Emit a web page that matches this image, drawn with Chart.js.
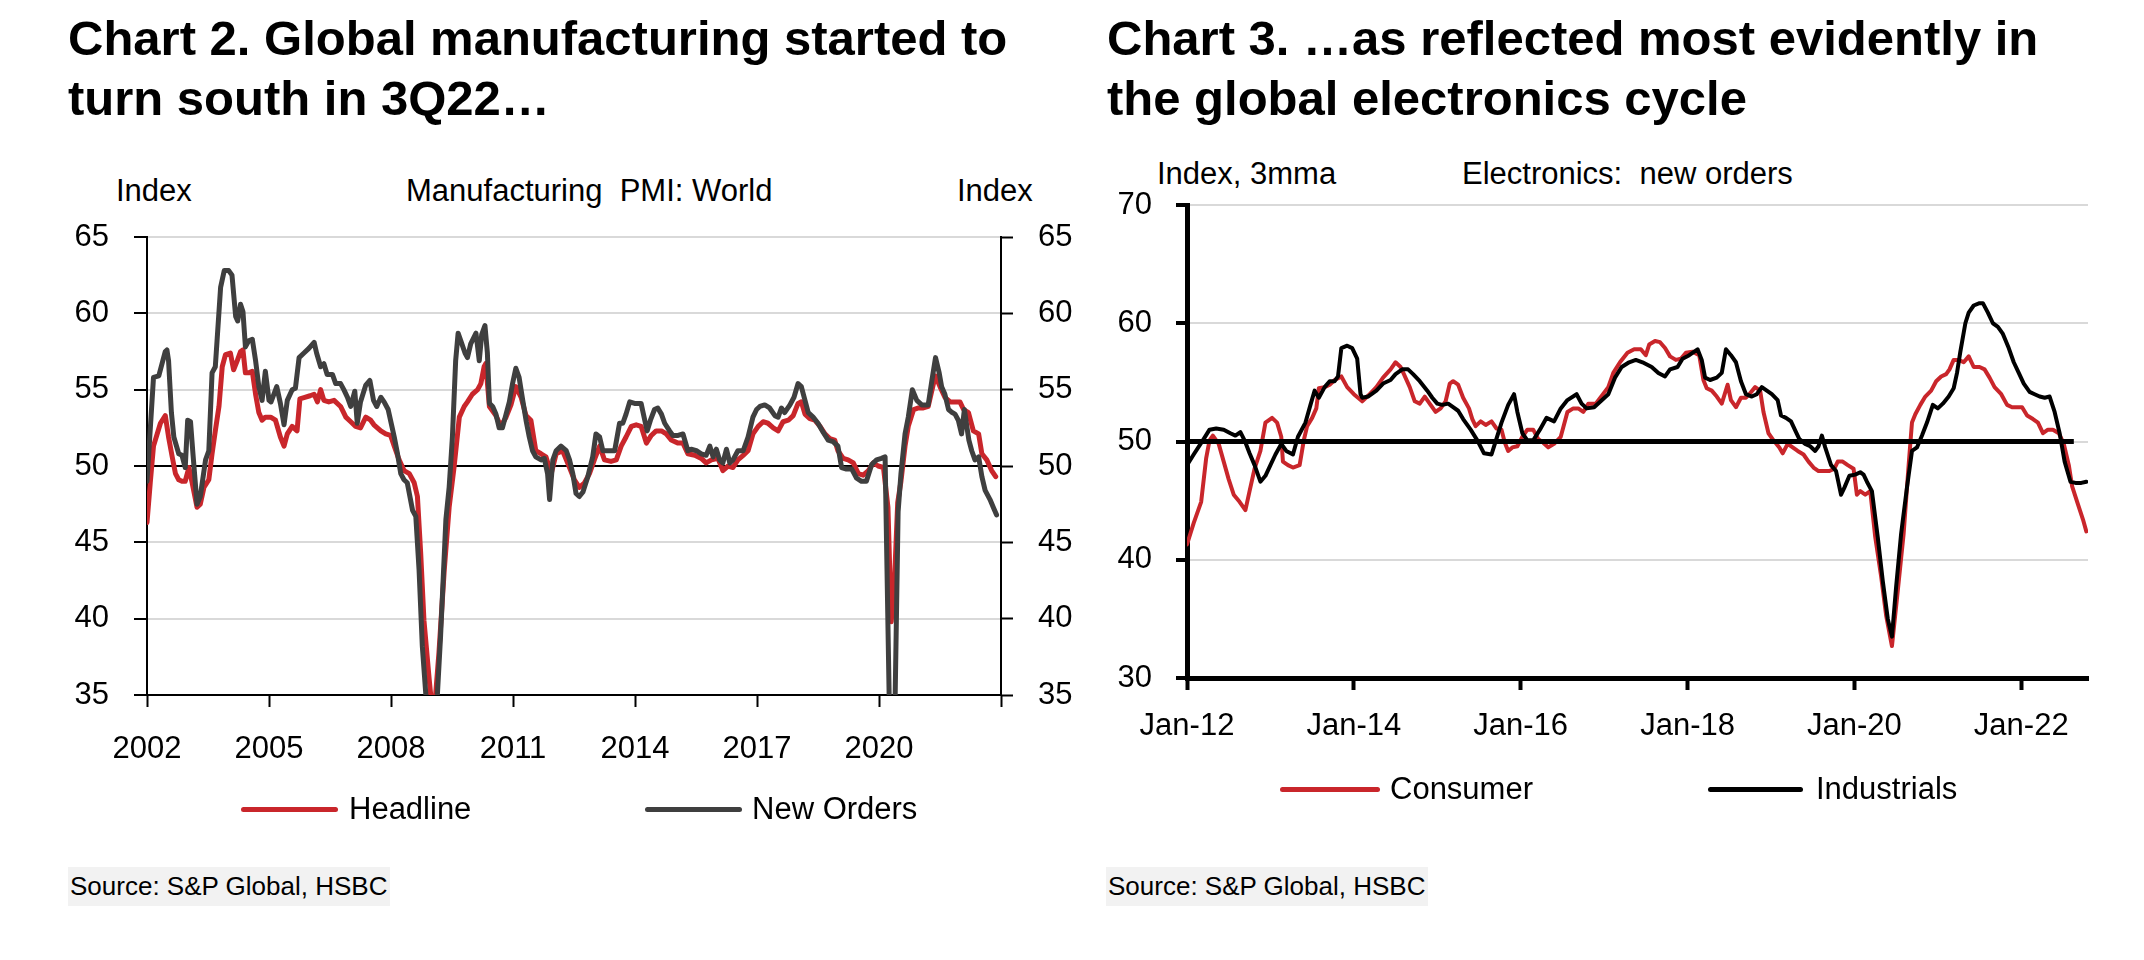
<!DOCTYPE html>
<html>
<head>
<meta charset="utf-8">
<script src="https://cdn.jsdelivr.net/npm/chart.js@4.4.1/dist/chart.umd.min.js"></script>
<style>
  body { margin: 0; background: #fff; width: 2144px; height: 960px; position: relative; overflow: hidden;
         font-family: 'Liberation Sans', Arial, sans-serif; color: #000; }
  .abs { position: absolute; white-space: pre; }
  .title { font-weight: 700; font-size: 49px; line-height: 60px; }
  .lbl { font-size: 31px; line-height: 32px; }
  .key { position: absolute; height: 5px; border-radius: 3px; }
  .src { font-size: 26px; line-height: 39px; background: #f2f2f2; padding: 0 3px 0 2px; }
  canvas { position: absolute; top: 0; }
</style>
</head>
<body>
  <div class="abs title" style="left:68px;top:8px">Chart 2. Global manufacturing started to
turn south in 3Q22…</div>
  <div class="abs title" style="left:1107px;top:8px">Chart 3. …as reflected most evidently in
the global electronics cycle</div>

  <div class="abs lbl" style="left:116px;top:175px">Index</div>
  <div class="abs lbl" style="left:406px;top:175px">Manufacturing  PMI: World</div>
  <div class="abs lbl" style="left:957px;top:175px">Index</div>
  <div class="abs lbl" style="left:1157px;top:158px">Index, 3mma</div>
  <div class="abs lbl" style="left:1462px;top:158px">Electronics:  new orders</div>

  <canvas id="pmi" width="1072" height="960" style="left:0"></canvas>
  <canvas id="elec" width="1072" height="960" style="left:1072px"></canvas>

  <div class="key" style="left:241px;top:807px;width:97px;background:#c9262b"></div>
  <div class="abs lbl" style="left:349px;top:793px">Headline</div>
  <div class="key" style="left:645px;top:807px;width:97px;background:#3f3f3f"></div>
  <div class="abs lbl" style="left:752px;top:793px">New Orders</div>

  <div class="key" style="left:1280px;top:787px;width:100px;background:#c9262b"></div>
  <div class="abs lbl" style="left:1390px;top:773px">Consumer</div>
  <div class="key" style="left:1708px;top:787px;width:95px;background:#000"></div>
  <div class="abs lbl" style="left:1816px;top:773px">Industrials</div>

  <div class="abs src" style="left:68px;top:867px">Source: S&amp;P Global, HSBC</div>
  <div class="abs src" style="left:1106px;top:867px">Source: S&amp;P Global, HSBC</div>

<script>
const FONT_FAMILY = "'Liberation Sans', Arial, sans-serif";

// Chart 2: manufacturing PMI, [year, index]
const pmiTickYears  = [2002, 2005, 2008, 2011, 2014, 2017, 2020, 2023];
const pmiTickLabels = ['2002', '2005', '2008', '2011', '2014', '2017', '2020', ''];

const headline = [
  [2002.00,46.3],[2002.08,48.9],[2002.16,51.3],[2002.25,52.1],[2002.33,52.8],[2002.45,53.3],[2002.53,51.9],[2002.62,50.6],
  [2002.70,49.5],[2002.78,49.1],[2002.86,49.0],[2002.94,49.0],[2003.03,49.9],[2003.11,48.9],[2003.23,47.3],[2003.31,47.5],
  [2003.40,48.6],[2003.52,49.1],[2003.60,50.8],[2003.68,52.3],[2003.77,53.9],[2003.85,56.5],[2003.93,57.3],[2004.05,57.4],
  [2004.13,56.3],[2004.22,56.9],[2004.30,57.5],[2004.36,57.6],[2004.42,56.1],[2004.50,56.1],[2004.59,56.2],[2004.67,54.7],
  [2004.75,53.5],[2004.83,53.0],[2004.91,53.2],[2005.04,53.2],[2005.16,53.0],[2005.28,51.9],[2005.37,51.3],[2005.45,52.1],
  [2005.57,52.6],[2005.69,52.3],[2005.76,54.4],[2005.88,54.5],[2006.01,54.6],[2006.11,54.7],[2006.19,54.2],[2006.27,55.0],
  [2006.35,54.3],[2006.47,54.2],[2006.60,54.3],[2006.76,53.9],[2006.89,53.2],[2007.01,52.9],[2007.13,52.6],[2007.25,52.5],
  [2007.38,53.2],[2007.50,53.0],[2007.58,52.7],[2007.75,52.3],[2007.87,52.1],[2007.99,52.0],[2008.08,51.3],[2008.20,50.4],
  [2008.32,49.7],[2008.45,49.5],[2008.57,48.9],[2008.65,48.0],[2008.73,44.3],[2008.81,39.9],[2008.94,36.0],[2009.02,33.8],
  [2009.10,35.1],[2009.18,37.8],[2009.31,43.2],[2009.43,47.3],[2009.55,49.9],[2009.68,53.2],[2009.80,53.9],[2009.88,54.2],
  [2010.00,54.7],[2010.13,55.0],[2010.21,55.4],[2010.29,56.5],[2010.33,56.7],[2010.42,53.9],[2010.58,53.3],[2010.70,52.6],
  [2010.83,53.2],[2010.95,54.0],[2011.07,55.2],[2011.20,54.5],[2011.32,53.3],[2011.44,53.0],[2011.56,51.0],[2011.69,50.8],
  [2011.81,50.6],[2011.94,49.5],[2012.06,50.8],[2012.22,51.0],[2012.39,49.9],[2012.51,49.1],[2012.63,48.6],[2012.76,48.9],
  [2012.88,49.5],[2013.00,50.4],[2013.13,51.3],[2013.25,50.4],[2013.41,50.3],[2013.54,50.4],[2013.66,51.3],[2013.78,51.9],
  [2013.91,52.6],[2014.03,52.7],[2014.15,52.6],[2014.28,51.5],[2014.40,52.0],[2014.52,52.3],[2014.65,52.3],[2014.77,52.1],
  [2014.89,51.7],[2015.06,51.5],[2015.18,51.5],[2015.30,50.8],[2015.47,50.7],[2015.63,50.5],[2015.75,50.2],[2015.88,50.4],
  [2016.04,50.5],[2016.16,49.7],[2016.29,50.0],[2016.41,49.9],[2016.53,50.4],[2016.66,50.7],[2016.78,51.0],[2016.90,52.1],
  [2017.03,52.6],[2017.15,52.9],[2017.27,52.8],[2017.40,52.5],[2017.52,52.3],[2017.64,52.9],[2017.77,53.0],[2017.89,53.3],
  [2018.01,54.1],[2018.09,54.2],[2018.18,53.4],[2018.30,53.1],[2018.42,53.0],[2018.55,52.6],[2018.67,52.1],[2018.79,51.8],
  [2018.91,51.7],[2018.99,51.0],[2019.12,50.5],[2019.24,50.4],[2019.37,50.2],[2019.49,49.5],[2019.61,49.4],[2019.74,49.7],
  [2019.86,50.2],[2019.98,50.0],[2020.11,49.9],[2020.22,47.3],[2020.30,39.8],[2020.38,42.4],[2020.46,47.6],[2020.54,49.0],
  [2020.64,51.3],[2020.72,52.6],[2020.85,53.7],[2020.97,53.8],[2021.09,53.8],[2021.21,53.9],[2021.34,55.4],[2021.39,55.9],
  [2021.50,55.2],[2021.62,54.5],[2021.75,54.2],[2021.87,54.2],[2021.99,54.2],[2022.08,53.7],[2022.20,53.5],[2022.32,52.3],
  [2022.45,52.1],[2022.53,50.8],[2022.65,50.4],[2022.77,49.7],[2022.87,49.3],
];

const newOrders = [
  [2002.00,49.0],[2002.16,55.8],[2002.29,55.9],[2002.37,56.7],[2002.45,57.5],[2002.49,57.6],[2002.53,56.9],[2002.60,53.5],
  [2002.66,51.9],[2002.78,50.8],[2002.86,50.7],[2002.94,49.9],[2003.00,53.0],[2003.07,52.9],[2003.13,50.8],[2003.23,47.5],
  [2003.31,48.0],[2003.44,50.4],[2003.52,51.0],[2003.60,56.1],[2003.68,56.5],[2003.81,61.7],[2003.90,62.8],[2004.01,62.8],
  [2004.09,62.5],[2004.18,59.8],[2004.23,59.5],[2004.30,60.6],[2004.36,60.1],[2004.42,57.8],[2004.50,58.2],[2004.59,58.3],
  [2004.67,56.9],[2004.75,55.2],[2004.83,54.3],[2004.91,56.2],[2005.00,54.3],[2005.05,54.2],[2005.19,55.2],[2005.28,54.1],
  [2005.37,52.7],[2005.45,54.3],[2005.57,55.0],[2005.65,55.1],[2005.74,57.1],[2005.86,57.4],[2005.98,57.7],[2006.11,58.1],
  [2006.17,57.4],[2006.27,56.5],[2006.35,56.7],[2006.43,56.0],[2006.56,56.0],[2006.64,55.4],[2006.76,55.4],[2006.84,55.0],
  [2006.93,54.5],[2007.01,53.9],[2007.11,54.9],[2007.17,52.8],[2007.25,54.2],[2007.38,55.3],[2007.48,55.6],[2007.57,54.3],
  [2007.65,53.9],[2007.75,54.5],[2007.83,54.2],[2007.93,53.7],[2008.03,52.5],[2008.08,51.9],[2008.16,50.8],[2008.24,49.5],
  [2008.32,49.1],[2008.40,48.9],[2008.53,47.1],[2008.61,46.7],[2008.69,43.2],[2008.77,38.2],[2008.86,34.9],[2008.95,31.5],
  [2009.05,32.5],[2009.14,35.0],[2009.22,38.9],[2009.35,46.5],[2009.43,48.6],[2009.51,51.9],[2009.59,56.9],[2009.65,58.7],
  [2009.73,58.1],[2009.82,57.4],[2009.88,57.1],[2009.96,58.0],[2010.09,58.7],[2010.17,56.9],[2010.23,58.6],[2010.31,59.2],
  [2010.37,57.4],[2010.42,54.1],[2010.50,53.9],[2010.58,53.4],[2010.66,52.5],[2010.74,52.5],[2010.83,53.4],[2010.91,54.2],
  [2010.99,55.4],[2011.07,56.4],[2011.15,55.8],[2011.24,54.3],[2011.32,53.0],[2011.40,51.9],[2011.48,51.0],[2011.56,50.6],
  [2011.69,50.4],[2011.77,50.5],[2011.85,49.5],[2011.90,47.8],[2011.98,50.4],[2012.06,51.0],[2012.18,51.3],[2012.31,51.0],
  [2012.39,50.4],[2012.47,49.5],[2012.55,48.2],[2012.63,48.0],[2012.72,48.3],[2012.84,49.3],[2012.96,50.6],[2013.04,52.1],
  [2013.13,51.9],[2013.21,51.0],[2013.33,51.0],[2013.50,51.0],[2013.62,52.8],[2013.70,52.8],[2013.78,53.4],[2013.87,54.2],
  [2013.99,54.1],[2014.07,54.1],[2014.15,54.1],[2014.24,53.0],[2014.30,52.3],[2014.38,53.0],[2014.48,53.7],[2014.56,53.8],
  [2014.65,53.4],[2014.73,52.8],[2014.85,52.3],[2014.93,52.0],[2015.06,52.0],[2015.18,52.1],[2015.30,51.0],[2015.38,51.1],
  [2015.51,51.0],[2015.63,50.8],[2015.75,50.7],[2015.84,51.3],[2015.92,50.6],[2016.00,51.1],[2016.08,50.4],[2016.16,50.2],
  [2016.25,51.1],[2016.33,50.2],[2016.41,50.4],[2016.53,51.0],[2016.66,51.0],[2016.78,51.9],[2016.90,53.2],[2016.99,53.7],
  [2017.07,53.9],[2017.19,54.0],[2017.31,53.8],[2017.44,53.3],[2017.52,53.2],[2017.60,53.8],[2017.68,53.5],[2017.81,54.0],
  [2017.91,54.5],[2018.01,55.4],[2018.09,55.2],[2018.18,54.3],[2018.26,53.5],[2018.38,53.2],[2018.50,52.8],[2018.63,52.2],
  [2018.75,51.7],[2018.87,51.6],[2018.99,51.3],[2019.08,49.9],[2019.20,49.8],[2019.33,49.8],[2019.45,49.2],[2019.57,49.0],
  [2019.69,49.0],[2019.82,50.1],[2019.94,50.4],[2020.06,50.5],[2020.15,50.6],[2020.30,27.0],[2020.38,32.0],[2020.47,47.0],
  [2020.54,49.5],[2020.64,52.1],[2020.72,53.2],[2020.82,55.0],[2020.93,54.3],[2021.05,54.0],[2021.21,54.0],[2021.30,55.6],
  [2021.39,57.1],[2021.48,56.1],[2021.54,55.2],[2021.62,54.7],[2021.71,53.7],[2021.80,53.5],[2021.87,53.4],[2021.95,53.0],
  [2022.03,52.1],[2022.10,53.7],[2022.16,52.6],[2022.21,51.7],[2022.28,51.0],[2022.36,50.4],[2022.45,50.6],[2022.53,49.3],
  [2022.61,48.4],[2022.73,47.8],[2022.81,47.3],[2022.89,46.8],
];

// Chart 3: electronics new orders, 3mma, [year, index]
const elecTickYears  = [2012, 2014, 2016, 2018, 2020, 2022];
const elecTickLabels = ['Jan-12', 'Jan-14', 'Jan-16', 'Jan-18', 'Jan-20', 'Jan-22'];
const elecFifty = [[2012, 50], [2022.63, 50]];

const consumer = [
  [2012.00,41.3],[2012.08,43.1],[2012.17,44.9],[2012.23,48.6],[2012.27,50.1],[2012.31,50.5],[2012.38,49.8],[2012.44,48.3],
  [2012.50,46.8],[2012.56,45.5],[2012.63,44.9],[2012.70,44.2],[2012.75,45.8],[2012.81,47.7],[2012.88,49.2],[2012.94,51.6],
  [2013.02,52.0],[2013.08,51.6],[2013.13,50.4],[2013.15,48.3],[2013.21,48.0],[2013.27,47.8],[2013.35,48.0],[2013.40,50.1],
  [2013.44,51.3],[2013.50,52.0],[2013.55,52.8],[2013.58,54.5],[2013.65,54.6],[2013.71,54.8],[2013.77,55.2],[2013.85,55.5],
  [2013.92,54.6],[2014.00,54.0],[2014.10,53.4],[2014.19,54.0],[2014.27,54.6],[2014.35,55.4],[2014.44,56.1],[2014.50,56.7],
  [2014.56,56.3],[2014.60,55.7],[2014.67,54.6],[2014.73,53.4],[2014.79,53.2],[2014.85,53.8],[2014.92,53.1],[2014.98,52.5],
  [2015.04,52.8],[2015.10,53.4],[2015.15,54.9],[2015.19,55.1],[2015.25,54.8],[2015.31,53.7],[2015.38,52.8],[2015.42,51.9],
  [2015.46,51.3],[2015.52,51.7],[2015.58,51.4],[2015.65,51.7],[2015.71,51.1],[2015.77,51.0],[2015.81,49.9],[2015.85,49.2],
  [2015.90,49.5],[2015.96,49.6],[2016.02,50.4],[2016.08,51.0],[2016.15,51.0],[2016.21,50.2],[2016.27,49.9],[2016.33,49.5],
  [2016.40,49.8],[2016.48,50.4],[2016.56,52.5],[2016.63,52.8],[2016.69,52.8],[2016.75,52.5],[2016.81,53.2],[2016.90,53.2],
  [2017.05,54.6],[2017.11,55.8],[2017.19,56.7],[2017.28,57.5],[2017.36,57.8],[2017.44,57.8],[2017.50,57.3],[2017.54,58.2],
  [2017.61,58.5],[2017.67,58.4],[2017.73,57.9],[2017.79,57.2],[2017.86,56.9],[2017.92,57.0],[2017.98,57.5],[2018.06,57.6],
  [2018.14,57.3],[2018.19,55.2],[2018.23,54.5],[2018.29,54.3],[2018.35,53.8],[2018.41,53.2],[2018.48,54.8],[2018.52,53.5],
  [2018.58,52.9],[2018.64,53.7],[2018.70,53.7],[2018.74,54.0],[2018.81,54.6],[2018.87,54.3],[2018.91,52.5],[2018.97,50.7],
  [2019.03,50.1],[2019.10,49.5],[2019.14,49.0],[2019.20,49.8],[2019.26,49.5],[2019.32,49.2],[2019.39,48.9],[2019.45,48.3],
  [2019.51,47.8],[2019.57,47.5],[2019.63,47.5],[2019.70,47.5],[2019.76,47.7],[2019.80,48.3],[2019.86,48.3],[2019.92,48.0],
  [2019.99,47.7],[2020.03,45.5],[2020.07,45.8],[2020.13,45.5],[2020.19,45.8],[2020.25,41.9],[2020.32,38.6],[2020.38,35.3],
  [2020.45,32.7],[2020.52,37.4],[2020.59,42.2],[2020.65,48.0],[2020.69,51.6],[2020.73,52.3],[2020.79,53.1],[2020.85,53.8],
  [2020.92,54.3],[2020.98,55.1],[2021.04,55.5],[2021.10,55.7],[2021.14,56.1],[2021.19,56.9],[2021.25,56.9],[2021.31,56.7],
  [2021.37,57.2],[2021.43,56.3],[2021.50,56.3],[2021.56,56.1],[2021.62,55.4],[2021.68,54.6],[2021.76,54.0],[2021.83,53.1],
  [2021.89,52.9],[2021.95,52.9],[2022.01,52.9],[2022.07,52.2],[2022.14,51.9],[2022.20,51.6],[2022.26,50.7],[2022.32,51.0],
  [2022.38,51.0],[2022.45,50.7],[2022.51,49.8],[2022.57,48.0],[2022.61,46.2],[2022.67,44.9],[2022.74,43.4],[2022.78,42.4],
];

const industrials = [
  [2012.00,48.0],[2012.08,48.9],[2012.19,50.1],[2012.27,51.0],[2012.35,51.1],[2012.44,51.0],[2012.52,50.7],[2012.58,50.5],
  [2012.64,50.8],[2012.69,50.1],[2012.75,49.0],[2012.81,48.0],[2012.88,46.6],[2012.94,47.1],[2013.00,48.0],[2013.06,48.9],
  [2013.13,49.8],[2013.19,49.2],[2013.27,48.9],[2013.33,50.4],[2013.42,51.6],[2013.48,53.1],[2013.53,54.3],[2013.58,53.7],
  [2013.65,54.6],[2013.71,55.1],[2013.77,55.1],[2013.81,55.5],[2013.85,57.9],[2013.92,58.1],[2013.98,57.9],[2014.04,57.0],
  [2014.08,54.0],[2014.10,53.7],[2014.17,53.8],[2014.27,54.3],[2014.35,54.9],[2014.44,55.2],[2014.50,55.7],[2014.58,56.1],
  [2014.65,56.1],[2014.71,55.7],[2014.79,55.1],[2014.88,54.3],[2014.94,53.7],[2015.00,53.2],[2015.06,53.1],[2015.13,53.2],
  [2015.19,52.9],[2015.25,52.6],[2015.31,51.9],[2015.40,51.0],[2015.48,50.1],[2015.56,49.0],[2015.65,48.9],[2015.69,49.8],
  [2015.77,51.6],[2015.85,53.1],[2015.92,54.0],[2015.96,52.5],[2016.02,50.7],[2016.08,50.1],[2016.15,50.1],[2016.23,51.0],
  [2016.31,52.0],[2016.40,51.7],[2016.48,52.8],[2016.56,53.5],[2016.67,54.0],[2016.73,53.2],[2016.79,52.8],[2016.88,52.9],
  [2017.05,54.0],[2017.13,55.4],[2017.21,56.3],[2017.30,56.7],[2017.38,56.9],[2017.46,56.7],[2017.57,56.3],[2017.65,55.8],
  [2017.73,55.5],[2017.79,56.1],[2017.88,56.3],[2017.94,57.0],[2018.02,57.3],[2018.12,57.8],[2018.17,56.9],[2018.21,55.4],
  [2018.27,55.2],[2018.35,55.4],[2018.41,55.8],[2018.46,57.8],[2018.52,57.3],[2018.58,56.7],[2018.64,55.1],[2018.70,54.0],
  [2018.77,53.8],[2018.83,54.0],[2018.89,54.6],[2018.95,54.3],[2019.01,54.0],[2019.08,53.5],[2019.12,52.2],[2019.18,52.0],
  [2019.24,51.7],[2019.30,50.8],[2019.34,50.2],[2019.41,49.8],[2019.47,49.6],[2019.53,49.2],[2019.57,49.6],[2019.61,50.5],
  [2019.65,49.5],[2019.72,48.0],[2019.78,47.5],[2019.84,45.5],[2019.88,46.1],[2019.94,47.1],[2020.01,47.2],[2020.07,47.4],
  [2020.11,47.2],[2020.15,46.6],[2020.21,45.8],[2020.28,41.9],[2020.34,38.2],[2020.40,35.0],[2020.45,33.5],[2020.50,37.7],
  [2020.56,42.2],[2020.63,46.1],[2020.69,49.2],[2020.75,49.5],[2020.81,50.5],[2020.87,51.6],[2020.94,53.1],[2021.00,52.8],
  [2021.06,53.2],[2021.13,53.8],[2021.19,54.5],[2021.23,55.8],[2021.27,57.6],[2021.33,60.0],[2021.37,60.9],[2021.43,61.5],
  [2021.50,61.7],[2021.54,61.7],[2021.60,60.9],[2021.66,60.0],[2021.72,59.7],[2021.78,59.1],[2021.85,57.9],[2021.91,56.7],
  [2021.97,55.8],[2022.03,54.9],[2022.10,54.2],[2022.16,54.0],[2022.22,53.8],[2022.28,53.7],[2022.34,53.8],[2022.40,52.5],
  [2022.46,50.7],[2022.52,48.3],[2022.59,46.6],[2022.65,46.5],[2022.72,46.5],[2022.78,46.6],
];

const toPoints = rows => rows.map(([x, y]) => ({ x, y }));
const tickFont = { family: FONT_FAMILY, size: 31 };

Chart.defaults.font.family = FONT_FAMILY;

const baseOptions = {
  responsive: false, animation: false, events: [], devicePixelRatio: 1,
  plugins: { legend: { display: false }, tooltip: { enabled: false } },
  elements: { point: { radius: 0 }, line: { tension: 0, borderJoinStyle: 'round', borderCapStyle: 'round' } },
};

new Chart(document.getElementById('pmi'), {
  type: 'line',
  data: {
    datasets: [
      { label: 'New Orders', data: toPoints(newOrders), borderColor: '#3f3f3f', borderWidth: 5, order: 0 },
      { label: 'Headline',   data: toPoints(headline),  borderColor: '#c9262b', borderWidth: 5, order: 1 },
    ],
  },
  options: {
    ...baseOptions,
    layout: { padding: { top: 237, left: 0, right: 0, bottom: 0 } },
    scales: {
      x: {
        type: 'linear', min: 2002, max: 2023,
        afterBuildTicks: axis => { axis.ticks = pmiTickYears.map(value => ({ value })); },
        afterFit: axis => { axis.height = 265; },
        grid: { drawOnChartArea: false, tickLength: 12, tickWidth: 2, tickColor: '#000' },
        border: { color: '#000', width: 2 },
        ticks: { color: '#000', font: tickFont, padding: 24, maxRotation: 0, autoSkip: false,
                 callback: (v, i) => pmiTickLabels[i] },
      },
      y: {
        position: 'left', min: 35, max: 65,
        afterFit: axis => { axis.width = 147; },
        grid: { color: c => c.tick && c.tick.value === 50 ? '#000' : '#d9d9d9', lineWidth: 2,
                tickColor: '#000', tickLength: 13, tickWidth: 2 },
        border: { color: '#000', width: 2 },
        ticks: { stepSize: 5, color: '#000', font: tickFont, padding: 25 },
      },
      y2: {
        position: 'right', min: 35, max: 65,
        afterFit: axis => { axis.width = 71; },
        grid: { drawOnChartArea: false, tickColor: '#000', tickLength: 12, tickWidth: 2 },
        border: { color: '#000', width: 2 },
        ticks: { stepSize: 5, color: '#000', font: tickFont, padding: 25 },
      },
    },
  },
});

new Chart(document.getElementById('elec'), {
  type: 'line',
  data: {
    datasets: [
      { label: '50', data: toPoints(elecFifty), borderColor: '#000', borderWidth: 5, borderCapStyle: 'butt', order: 0 },
      { label: 'Industrials', data: toPoints(industrials), borderColor: '#000', borderWidth: 4, order: 1 },
      { label: 'Consumer',    data: toPoints(consumer),    borderColor: '#c9262b', borderWidth: 4, order: 2 },
    ],
  },
  options: {
    ...baseOptions,
    layout: { padding: { top: 205, left: 0, right: 56, bottom: 0 } },
    scales: {
      x: {
        type: 'linear', min: 2012, max: 2022.8,
        afterBuildTicks: axis => { axis.ticks = elecTickYears.map(value => ({ value })); },
        afterFit: axis => { axis.height = 282; },
        grid: { drawOnChartArea: false, tickLength: 12, tickWidth: 4, tickColor: '#000' },
        border: { color: '#000', width: 5 },
        ticks: { color: '#000', font: tickFont, padding: 18, maxRotation: 0, autoSkip: false,
                 callback: (v, i) => elecTickLabels[i] },
      },
      y: {
        position: 'left', min: 30, max: 70,
        afterFit: axis => { axis.width = 115; },
        grid: { color: '#d9d9d9', lineWidth: 2, tickColor: '#000', tickLength: 11, tickWidth: 4 },
        border: { color: '#000', width: 5 },
        ticks: { stepSize: 10, color: '#000', font: tickFont, padding: 24 },
      },
    },
  },
});
</script>
</body>
</html>
